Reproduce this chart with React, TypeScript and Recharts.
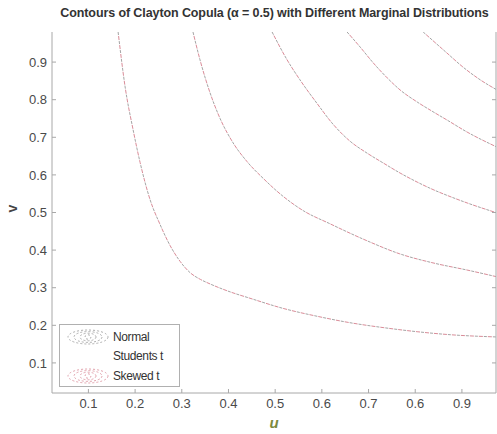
import React from "react";
import { Line, LineChart, XAxis, YAxis } from "recharts";

// contour curves, as [u, v] pairs
const levelA = [
  [0.1636, 0.98], [0.1786, 0.834], [0.1957, 0.72], [0.2107, 0.633], [0.2321, 0.534],
  [0.2535, 0.468], [0.275, 0.412], [0.2964, 0.37], [0.3178, 0.34], [0.34, 0.322],
  [0.3606, 0.31], [0.4034, 0.289], [0.446, 0.272], [0.517, 0.245], [0.59, 0.224],
  [0.66, 0.207], [0.731, 0.194], [0.804, 0.183], [0.875, 0.175], [0.975, 0.169],
];
const levelB = [
  [0.324, 0.98], [0.339, 0.906], [0.3606, 0.818], [0.382, 0.75], [0.41, 0.685],
  [0.44, 0.635], [0.475, 0.59], [0.515, 0.545], [0.56, 0.505], [0.6175, 0.47],
  [0.6964, 0.425], [0.767, 0.39], [0.838, 0.366], [0.911, 0.347], [0.975, 0.329],
];
const levelC = [
  [0.4934, 0.98], [0.5255, 0.906], [0.553, 0.853], [0.5897, 0.79], [0.6238, 0.735],
  [0.66, 0.69], [0.6967, 0.658], [0.731, 0.632], [0.7675, 0.605], [0.804, 0.581],
  [0.838, 0.561], [0.8745, 0.5425], [0.911, 0.5255], [0.975, 0.499],
];
const levelD = [
  [0.654, 0.98], [0.682, 0.94], [0.71, 0.898], [0.74, 0.858], [0.7675, 0.826],
  [0.804, 0.794], [0.838, 0.768], [0.868, 0.746], [0.911, 0.714], [0.975, 0.674],
];
const levelE = [
  [0.817, 0.98], [0.868, 0.924], [0.902, 0.887], [0.939, 0.853], [0.975, 0.826],
];

const contours = [levelA, levelB, levelC, levelD, levelE];

const uTicks = [0.1, 0.2, 0.3, 0.4, 0.5, 0.6, 0.7, 0.8, 0.9];
const uTickLabels = ["0.1", "0.2", "0.3", "0.4", "0.5", "0.6", "0.7", "0.6", "0.9"];
const vTicks = [0.1, 0.2, 0.3, 0.4, 0.5, 0.6, 0.7, 0.8, 0.9];

const legendItems = ["Normal", "Students t", "Skewed t"];

const toRows = (pts: number[][]) => pts.map(([u, v]) => ({ u, v }));

const FONT = "Arial, 'Liberation Sans', sans-serif";
const AXIS = "#a8a8a8";
const RED = "#d98c98";
const GREY = "#9a9a9a";
const tickStyle = { fontSize: 13, fill: "#4a4a4a", fontFamily: FONT };

function EllipseIcon({ color }: { color: string }) {
  return (
    <svg width={44} height={16}>
      {[20, 14, 8, 3].map((rx, i) => (
        <ellipse
          key={rx}
          cx={22}
          cy={8}
          rx={rx}
          ry={7 - i * 1.6}
          fill="none"
          stroke={color}
          strokeWidth={0.8}
          strokeDasharray="2 2"
        />
      ))}
    </svg>
  );
}

function LegendBox() {
  return (
    <div
      style={{
        position: "absolute",
        left: 59,
        top: 324,
        border: "1px solid #b0b0b0",
        background: "#fff",
        width: 121,
        height: 63,
        boxSizing: "border-box",
        fontFamily: FONT,
        fontSize: 12,
        color: "#333",
        letterSpacing: -0.4,
        paddingTop: 2,
      }}
    >
      {legendItems.map((name, i) => (
        <div key={name} style={{ display: "flex", alignItems: "center", height: 19.5 }}>
          <div style={{ width: 53, paddingLeft: 6, boxSizing: "border-box", height: 16 }}>
            {i === 0 ? <EllipseIcon color={GREY} /> : i === 2 ? <EllipseIcon color={RED} /> : null}
          </div>
          <span>{name}</span>
        </div>
      ))}
    </div>
  );
}

export default function App() {
  return (
    <div style={{ position: "absolute", left: 0, top: 0, width: 497, height: 434, background: "#fff" }}>
      <div
        style={{
          position: "absolute",
          top: 6,
          left: 0,
          width: 549,
          textAlign: "center",
          fontFamily: FONT,
          fontWeight: "bold",
          fontSize: 12.5,
          letterSpacing: -0.1,
          color: "#333",
          whiteSpace: "nowrap",
        }}
      >
        Contours of Clayton Copula (α = 0.5) with Different Marginal Distributions
      </div>
      <LineChart width={497} height={434} margin={{ top: 32, right: 0, bottom: 0, left: 0 }}>
        <XAxis
          type="number"
          dataKey="u"
          domain={[0.022, 0.973]}
          allowDataOverflow
          ticks={uTicks}
          tickFormatter={(_v, i) => uTickLabels[i]}
          height={41}
          tickSize={-4}
          tickMargin={10}
          stroke={AXIS}
          tick={tickStyle}
          label={{
            value: "u",
            position: "insideBottom",
            offset: 6,
            style: { fontSize: 15, fontStyle: "italic", fontWeight: "bold", fill: "#7d8a3e", fontFamily: FONT },
          }}
        />
        <XAxis
          xAxisId="top"
          orientation="top"
          type="number"
          domain={[0.022, 0.973]}
          allowDataOverflow
          ticks={uTicks}
          height={0}
          tickSize={-4}
          stroke={AXIS}
          tick={() => <g />}
        />
        <YAxis
          type="number"
          domain={[0.02, 0.98]}
          allowDataOverflow
          ticks={vTicks}
          width={52}
          tickSize={-4}
          tickMargin={9}
          stroke={AXIS}
          tick={tickStyle}
          label={{
            value: "v",
            angle: -90,
            position: "insideLeft",
            offset: 12,
            style: { fontSize: 14, fontWeight: "bold", fill: "#444", fontFamily: FONT },
          }}
        />
        <YAxis
          yAxisId="right"
          orientation="right"
          type="number"
          domain={[0.02, 0.98]}
          allowDataOverflow
          ticks={vTicks}
          width={1}
          tickSize={-4}
          stroke={AXIS}
          tick={() => <g />}
        />
        {contours.map((pts, i) => (
          <Line
            key={`grey-${i}`}
            data={toRows(pts)}
            dataKey="v"
            type="monotone"
            stroke={GREY}
            strokeWidth={0.9}
            strokeDasharray="3 6"
            dot={false}
            isAnimationActive={false}
          />
        ))}
        {contours.map((pts, i) => (
          <Line
            key={`red-${i}`}
            data={toRows(pts)}
            dataKey="v"
            type="monotone"
            stroke={RED}
            strokeWidth={1}
            strokeDasharray="4 5"
            strokeDashoffset={5}
            dot={false}
            isAnimationActive={false}
          />
        ))}
      </LineChart>
      <LegendBox />
    </div>
  );
}
